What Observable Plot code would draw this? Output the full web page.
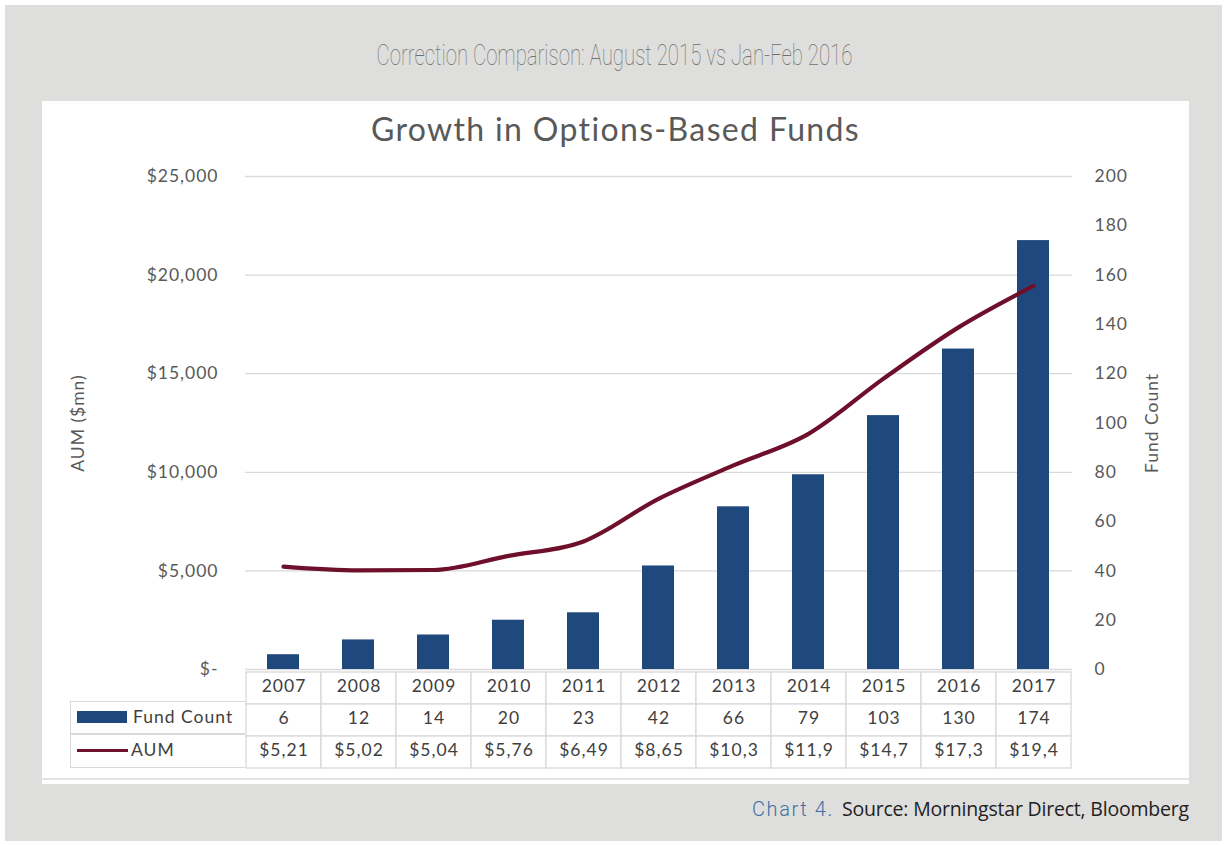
<!DOCTYPE html>
<html>
<head>
<meta charset="utf-8">
<script src="https://cdn.jsdelivr.net/npm/d3@7"></script>
<script src="https://cdn.jsdelivr.net/npm/@observablehq/plot@0.6"></script>
<style>
  html, body { margin: 0; padding: 0; background: #ffffff; width: 1229px; height: 846px; overflow: hidden; }
  #bg { position: absolute; left: 5px; top: 5px; width: 1217px; height: 836px; background: #dededc; }
  #subtitle { position: absolute; left: 0; width: 1229px; top: 38px; text-align: center; }
  #subtitle span { display: inline-block; font-family: Roboto, sans-serif; font-weight: 100; font-size: 29px; color: #6f6f6f; transform-origin: center; white-space: nowrap; }
  #panel { position: absolute; left: 42px; top: 101px; width: 1147px; height: 683px; background: #fff; }
  #title { position: absolute; left: 0; width: 1147px; top: 8px; text-align: center; font-family: Lato, sans-serif; font-size: 32px; color: #595959; letter-spacing: 1.35px; }
  #chart { position: absolute; left: 0; top: 59px; }
  #table { position: absolute; left: 0; top: 569px; }
  .lab { position: absolute; left: 28px; width: 175px; height: 33px; box-sizing: border-box; border: 1.3px solid #d9d9d9; border-right: none; font-family: Lato, sans-serif; font-size: 17.5px; letter-spacing: 1px; color: #404040; line-height: 29px; }
  .sw { position: absolute; }
  .lab .t { position: absolute; left: 62px; top: 0; }
  #bottomline { position: absolute; left: 0; top: 677px; width: 1147px; height: 2px; background: #e3e3e3; }
  #caption { position: absolute; right: 40px; top: 795px; white-space: nowrap; }
  #caption .c4 { font-family: Roboto, sans-serif; font-weight: 300; color: #3f6fa5; font-size: 20px; letter-spacing: 1.6px; margin-right: 8px; }
  #caption .src { font-family: "Open Sans", sans-serif; color: #222; font-size: 19.5px; letter-spacing: -0.2px; }
</style>
</head>
<body>
<div id="bg"></div>
<div id="subtitle"><span id="subspan">Correction Comparison: August 2015 vs Jan-Feb 2016</span></div>
<div id="panel">
  <div id="title">Growth in Options-Based Funds</div>
  <div id="chart"></div>
  <div id="table"></div>
  <div class="lab" style="top:600px;"><div class="sw" style="left:6px;top:9px;width:50px;height:12px;background:#1f497d;"></div><span class="t">Fund Count</span></div>
  <div class="lab" style="top:633px;height:34px;"><div class="sw" style="left:6px;top:14px;width:51px;height:3px;background:#6e0f2c;"></div><span class="t" style="left:60px;">AUM</span></div>
  <div id="bottomline"></div>
</div>
<div id="caption"><span class="c4">Chart 4.</span><span class="src">Source: Morningstar Direct, Bloomberg</span></div>
<script>
// ---- data ----
const years = ["2007","2008","2009","2010","2011","2012","2013","2014","2015","2016","2017"];
const fundCount = [6, 12, 14, 20, 23, 42, 66, 79, 103, 130, 174];
const aum = [5215, 5025, 5045, 5765, 6495, 8655, 10350, 11950, 14750, 17350, 19450];
const aumTableLabels = ["$5,21","$5,02","$5,04","$5,76","$6,49","$8,65","$10,3","$11,9","$14,7","$17,3","$19,4"];
const aumTicks = [0, 5000, 10000, 15000, 20000, 25000];
const countTicks = [0, 20, 40, 60, 80, 100, 120, 140, 160, 180, 200];
const tableRows = ["Year", "Fund Count", "AUM"];

// ---- derived ----
const ratio = 25000 / 200; // right axis count -> AUM scale
const data = years.map((y, i) => ({year: y, count: fundCount[i], aum: aum[i]}));
const cells = years.flatMap((y, i) => [
  {year: y, row: "Year", text: y},
  {year: y, row: "Fund Count", text: String(fundCount[i])},
  {year: y, row: "AUM", text: aumTableLabels[i]}
]);

const fontFam = "Lato, sans-serif";
const chart = Plot.plot({
  width: 1147, height: 511,
  marginLeft: 203, marginRight: 117, marginTop: 16, marginBottom: 2,
  style: {fontFamily: fontFam, fontSize: "17.5px", color: "#595959", background: "transparent", overflow: "visible"},
  x: {domain: years, paddingInner: 0.57, paddingOuter: 0.285, axis: null},
  y: {domain: [0, 25000], axis: null},
  marks: [
    Plot.gridY(aumTicks, {stroke: "#d9d9d9", strokeOpacity: 1, strokeWidth: 1.3}),
    Plot.axisY(aumTicks, {anchor: "left", tickSize: 0, tickPadding: 27, label: null,
      tickFormat: d => d === 0 ? "$-" : "$" + d3.format(",")(d)}),
    Plot.axisY(countTicks.map(c => c * ratio), {anchor: "right", tickSize: 0, tickPadding: 22, label: null,
      tickFormat: d => String(d / ratio)}),
    Plot.barY(data, {x: "year", y: d => d.count * ratio, fill: "#1f497d"}),
    Plot.lineY(data, {x: "year", y: "aum", stroke: "#6e0f2c", strokeWidth: 4.2, curve: "monotone-x"}),
    Plot.text(["AUM ($mn)"], {frameAnchor: "left", textAnchor: "middle", dx: -167, rotate: -90, fontSize: 17.5, fill: "#595959"}),
    Plot.text(["Fund Count"], {frameAnchor: "right", textAnchor: "middle", dx: 80, rotate: -90, fontSize: 17.5, fill: "#595959"})
  ]
});
chart.querySelectorAll("text").forEach(t => t.style.letterSpacing = "1px");
document.getElementById("chart").appendChild(chart);

const table = Plot.plot({
  width: 1147, height: 99,
  marginLeft: 203, marginRight: 117, marginTop: 1, marginBottom: 1,
  style: {fontFamily: fontFam, fontSize: "17.5px", background: "transparent", overflow: "visible"},
  x: {domain: years, padding: 0, axis: null},
  y: {domain: tableRows, padding: 0, axis: null},
  marks: [
    Plot.cell(cells, {x: "year", y: "row", fill: "white", stroke: "#d9d9d9", strokeWidth: 1.3, inset: 0}),
    Plot.text(cells, {x: "year", y: "row", text: "text", fill: "#404040", fontSize: 17.5, dy: -2.5})
  ]
});
table.querySelectorAll("text").forEach(t => t.style.letterSpacing = "1px");
document.getElementById("table").appendChild(table);

// fit the condensed subtitle to its width in the reference
const sub = document.getElementById("subspan");
const w = sub.getBoundingClientRect().width;
sub.style.transform = `scaleX(${476 / w})`;
</script>
</body>
</html>
